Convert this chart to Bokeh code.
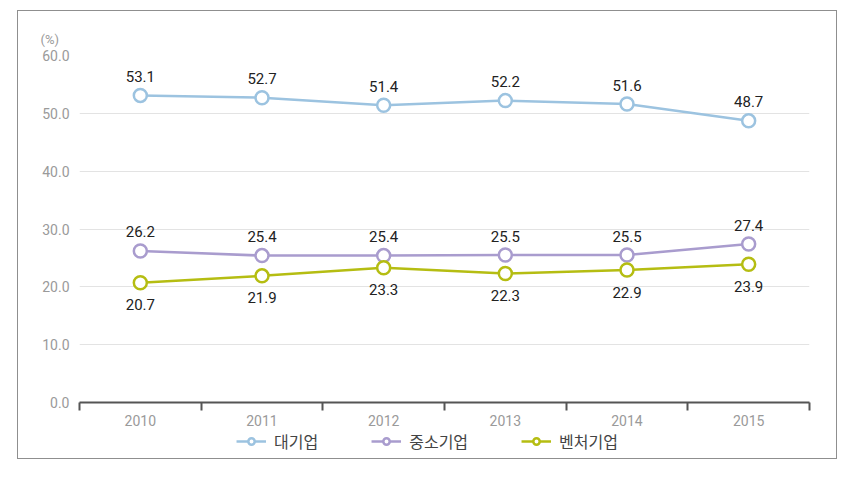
from bokeh.plotting import figure
from bokeh.layouts import column
from bokeh.models import (Range1d, FixedTicker, Legend, LegendItem,
                          ColumnDataSource, PrintfTickFormatter)
from bokeh.core.properties import value
from bokeh.embed import file_html
from bokeh.resources import INLINE

years = ["2010", "2011", "2012", "2013", "2014", "2015"]
large = [53.1, 52.7, 51.4, 52.2, 51.6, 48.7]
sme = [26.2, 25.4, 25.4, 25.5, 25.5, 27.4]
venture = [20.7, 21.9, 23.3, 22.3, 22.9, 23.9]
series_names = ["대기업", "중소기업", "벤처기업"]
y_ticks = [0, 10, 20, 30, 40, 50, 60]
unit_label = "(%)"

colors = ["#9cc3e0", "#a99cce", "#b5bd12"]
num_font = "Roboto"
kr_font = "Noto Sans CJK KR"

xs = [i + 0.5 for i in range(len(years))]
series = [large, sme, venture]

p = figure(frame_width=730, frame_height=347, output_backend="svg",
           toolbar_location=None, x_range=Range1d(0, len(years)),
           y_range=Range1d(0, 60),
           min_border_left=61, min_border_right=27,
           min_border_top=44, min_border_bottom=0)
p.outline_line_color = None
p.background_fill_color = "white"
p.border_fill_color = "white"

p.title.text = unit_label
p.title.align = "left"
p.title.offset = -39
p.title.standoff = 17
p.title.text_font = num_font
p.title.text_font_style = "normal"
p.title.text_font_size = "13px"
p.title.text_color = "#9a9a9a"

p.xaxis.ticker = FixedTicker(ticks=xs, minor_ticks=list(range(len(years) + 1)))
p.xaxis.major_label_overrides = {x: y for x, y in zip(xs, years)}
p.xaxis.major_tick_out = 0
p.xaxis.major_tick_in = 0
p.xaxis.minor_tick_out = 8
p.xaxis.minor_tick_in = 0
p.xaxis.minor_tick_line_color = "#555555"
p.xaxis.minor_tick_line_width = 2
p.xaxis.axis_line_color = "#555555"
p.xaxis.axis_line_width = 2
p.xaxis.major_label_standoff = 4
p.xaxis.major_label_text_color = "#9a9a9a"
p.xaxis.major_label_text_font = num_font
p.xaxis.major_label_text_font_size = "14px"
p.xgrid.grid_line_color = None

p.yaxis.ticker = FixedTicker(ticks=y_ticks)
p.yaxis.formatter = PrintfTickFormatter(format="%.1f")
p.yaxis.axis_line_color = None
p.yaxis.major_tick_line_color = None
p.yaxis.minor_tick_line_color = None
p.yaxis.major_tick_out = 0
p.yaxis.minor_tick_out = 0
p.yaxis.major_label_standoff = 10
p.yaxis.major_label_text_color = "#9a9a9a"
p.yaxis.major_label_text_font = num_font
p.yaxis.major_label_text_font_size = "14px"
p.ygrid.grid_line_color = "#e3e3e3"

offsets = [-19, -19, 22]
for vals, col, off in zip(series, colors, offsets):
    src = ColumnDataSource(dict(x=xs, y=vals, t=[f"{v:.1f}" for v in vals]))
    p.line("x", "y", source=src, line_color=col, line_width=2.5)
    p.scatter("x", "y", source=src, size=13, marker="circle",
              fill_color="white", line_color=col, line_width=2.5)
    p.text("x", "y", text="t", source=src, y_offset=off, text_align="center",
           text_baseline="middle", text_color="#222222",
           text_font=value(num_font), text_font_size="15px")

# legend strip below the chart (its sample renderers lie outside its view)
lf = figure(frame_width=818, frame_height=26, output_backend="svg",
            toolbar_location=None, x_axis_location=None, y_axis_location=None,
            x_range=Range1d(-100, -99), y_range=Range1d(-100, -99),
            min_border_left=0, min_border_right=0, min_border_top=0,
            min_border_bottom=4)
lf.outline_line_color = None
lf.grid.grid_line_color = None
lf.border_fill_color = "white"
items = []
for name, vals, col in zip(series_names, series, colors):
    ln = lf.line(xs, vals, line_color=col, line_width=2.5)
    sc = lf.scatter(xs, vals, size=12, marker="circle", fill_color="white",
                    line_color=col, line_width=2.5)
    items.append(LegendItem(label=name, renderers=[ln, sc]))
legend = Legend(items=items, orientation="horizontal", location="center",
                spacing=53, glyph_width=30, glyph_height=16, label_standoff=8,
                label_text_font=kr_font, label_text_font_size="16px",
                label_text_color="#444444", border_line_color=None,
                background_fill_alpha=0, padding=0, margin=0)
lf.add_layout(legend, "center")

layout = column(p, lf, spacing=0)
layout.styles = {"border": "1px solid #8f8f8f", "margin-left": "17px",
                 "margin-top": "10px", "background": "white"}

open("out.html", "w").write(file_html(layout, INLINE))
